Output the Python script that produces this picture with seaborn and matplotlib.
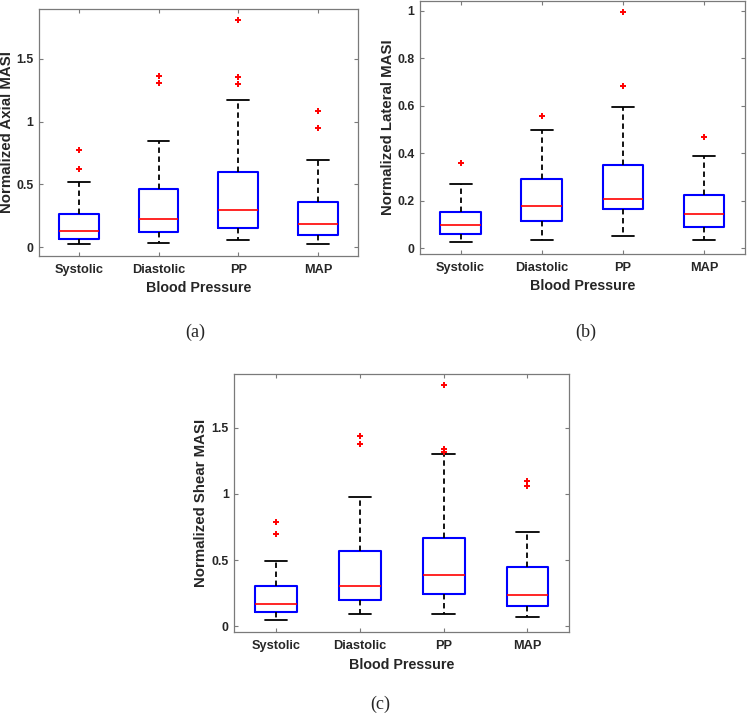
import matplotlib
matplotlib.use("Agg")
import matplotlib.pyplot as plt
import seaborn as sns

# --- data (normalized MASI per blood pressure measure)
groups = ["Systolic", "Diastolic", "PP", "MAP"]

# axial
axial_whislo = [0.024, 0.034, 0.061, 0.029]
axial_q1 = [0.069, 0.122, 0.154, 0.095]
axial_med = [0.127, 0.228, 0.294, 0.186]
axial_q3 = [0.268, 0.466, 0.602, 0.360]
axial_whishi = [0.517, 0.845, 1.171, 0.692]
axial_fliers = [[0.62, 0.774], [1.31, 1.36], [1.296, 1.354, 1.805], [0.952, 1.084]]

# lateral
lateral_whislo = [0.025, 0.037, 0.051, 0.034]
lateral_q1 = [0.062, 0.115, 0.164, 0.088]
lateral_med = [0.098, 0.180, 0.208, 0.143]
lateral_q3 = [0.152, 0.291, 0.351, 0.223]
lateral_whishi = [0.272, 0.497, 0.597, 0.390]
lateral_fliers = [[0.358], [0.559], [0.684, 0.996], [0.470]]

# shear
shear_whislo = [0.045, 0.091, 0.096, 0.068]
shear_q1 = [0.108, 0.196, 0.242, 0.156]
shear_med = [0.169, 0.305, 0.385, 0.237]
shear_q3 = [0.307, 0.571, 0.670, 0.445]
shear_whishi = [0.496, 0.977, 1.304, 0.715]
shear_fliers = [[0.695, 0.785], [1.374, 1.437], [1.316, 1.338, 1.822], [1.057, 1.097]]


def make_stats(whislo, q1, med, q3, whishi, fliers):
    return [
        dict(whislo=a, q1=b, med=c, q3=d, whishi=e, fliers=f)
        for a, b, c, d, e, f in zip(whislo, q1, med, q3, whishi, fliers)
    ]


sns.set_style("ticks")
plt.rcParams["font.family"] = ["Liberation Sans", "DejaVu Sans"]
plt.rcParams["font.weight"] = "bold"

fig = plt.figure(figsize=(7.5, 7.19), dpi=100)

panels = [
    dict(rect=[0.052, 0.644, 0.425, 0.3435], ylim=(-0.07, 1.896),
         yticks=[0, 0.5, 1, 1.5], ylabel="Normalized Axial MASI", tag="(a)", tagpos=(0.261, 0.538),
         stats=make_stats(axial_whislo, axial_q1, axial_med, axial_q3, axial_whishi, axial_fliers)),
    dict(rect=[0.56, 0.6467, 0.433, 0.3523], ylim=(-0.024, 1.043),
         yticks=[0, 0.2, 0.4, 0.6, 0.8, 1], ylabel="Normalized Lateral MASI", tag="(b)", tagpos=(0.781, 0.538),
         stats=make_stats(lateral_whislo, lateral_q1, lateral_med, lateral_q3, lateral_whishi, lateral_fliers)),
    dict(rect=[0.3124, 0.1214, 0.4467, 0.358], ylim=(-0.04, 1.903),
         yticks=[0, 0.5, 1, 1.5], ylabel="Normalized Shear MASI", tag="(c)", tagpos=(0.507, 0.021),
         stats=make_stats(shear_whislo, shear_q1, shear_med, shear_q3, shear_whishi, shear_fliers)),
]

spine_col = "#7a7a7a"
text_col = "#262626"

for p in panels:
    ax = fig.add_axes(p["rect"])
    ax.bxp(
        p["stats"], positions=[1, 2, 3, 4], widths=0.5, capwidths=0.27,
        boxprops=dict(color="#0000ff", linewidth=1.5),
        medianprops=dict(color="#ff0000", linewidth=1.2),
        whiskerprops=dict(color="black", linewidth=1.3, linestyle=(0, (3, 2))),
        capprops=dict(color="black", linewidth=1.3),
        flierprops=dict(marker="+", markeredgecolor="#ff0000", markersize=5, markeredgewidth=1.4),
    )
    ax.set_xlim(0.5, 4.5)
    ax.set_ylim(*p["ylim"])
    ax.set_xticks([1, 2, 3, 4])
    ax.set_xticklabels(groups, fontsize=9.2, fontweight="bold", color=text_col)
    ax.set_yticks(p["yticks"])
    ax.set_yticklabels([f"{t:g}" for t in p["yticks"]], fontsize=8.8, fontweight="bold", color=text_col)
    ax.set_xlabel("Blood Pressure", fontsize=10.3, fontweight="bold", color=text_col)
    ax.set_ylabel(p["ylabel"], fontsize=10.8, fontweight="bold", color=text_col)
    ax.xaxis.set_label_coords(0.5, -0.128)
    ax.xaxis.label.set_va("center")
    ax.yaxis.set_label_coords(-0.1, 0.5)
    ax.yaxis.label.set_va("center")
    ax.tick_params(direction="in", top=True, right=True, length=3, width=0.8,
                   color=spine_col)
    ax.tick_params(axis="x", pad=6)
    ax.tick_params(axis="y", pad=4)
    for s in ax.spines.values():
        s.set_color(spine_col)
        s.set_linewidth(0.9)
    fig.text(p["tagpos"][0], p["tagpos"][1], p["tag"], ha="center", va="center",
             fontsize=13, fontweight="normal", family=["Liberation Serif", "DejaVu Serif"])

fig.savefig("out.png", dpi=100)
